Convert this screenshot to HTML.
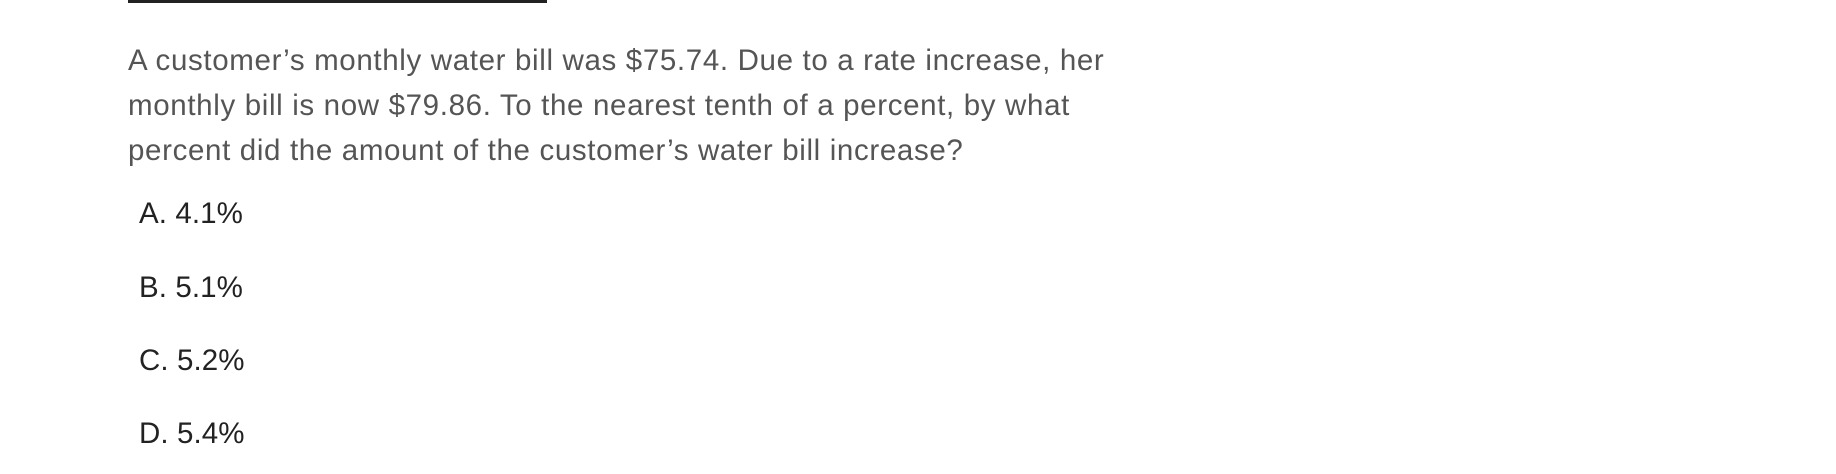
<!DOCTYPE html>
<html><head><meta charset="utf-8"><style>
html,body{margin:0;padding:0;background:#fff;width:1836px;height:474px;overflow:hidden;font-family:"Liberation Sans",sans-serif;}
.rule{position:absolute;left:128px;top:0;width:419px;height:3px;background:#222;}
.q{position:absolute;left:128px;top:38px;width:1300px;font-size:29.5px;line-height:45px;color:#555;letter-spacing:0.65px;white-space:nowrap;}
.opt{position:absolute;left:139px;font-size:29.5px;color:#222;line-height:34px;letter-spacing:0.1px;}
</style></head><body>
<div class="rule"></div>
<div class="q">A customer’s monthly water bill was $75.74. Due to a rate increase, her<br>monthly bill is now $79.86. To the nearest tenth of a percent, by what<br>percent did the amount of the customer’s water bill increase?</div>
<div class="opt" style="top:197px">A. 4.1%</div>
<div class="opt" style="top:271px">B. 5.1%</div>
<div class="opt" style="top:344px">C. 5.2%</div>
<div class="opt" style="top:417px">D. 5.4%</div>
</body></html>
